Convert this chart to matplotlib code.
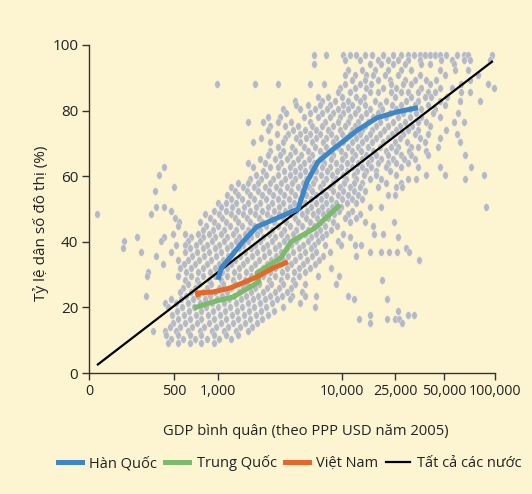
import numpy as np
import matplotlib
matplotlib.use("Agg")
import matplotlib.pyplot as plt
from matplotlib.lines import Line2D
from matplotlib.ticker import FixedLocator, FixedFormatter, NullLocator

plt.rcParams['font.family'] = ['Open Sans', 'DejaVu Sans']

# ---------------- data ----------------
x_ticks = [0, 500, 1000, 10000, 25000, 50000, 100000]
x_tick_labels = ["0", "500", "1,000", "10,000", "25,000", "50,000", "100,000"]
y_ticks = [0, 20, 40, 60, 80, 100]

korea_gdp = [1000, 1060, 1210, 1560, 2060, 2780, 4420, 5220, 6410, 8790, 13250, 18300, 25700, 34600]
korea_urban = [28.4, 32.0, 34.5, 39.7, 44.6, 46.7, 50.0, 58.3, 64.4, 68.7, 74.2, 77.8, 79.6, 80.9]

china_gdp = [685, 925, 1330, 2140, 2060, 3220, 3880, 6060, 9640]
china_urban = [19.8, 21.7, 23.2, 27.8, 30.5, 35.1, 40.0, 44.2, 51.3]

vietnam_gdp = [735, 720, 925, 1250, 1590, 2060, 2780, 3670]
vietnam_urban = [23.2, 24.4, 24.7, 25.9, 27.5, 29.3, 32.0, 33.9]

all_gdp = [47, 97000]
all_urban = [2.4, 95.1]

# scatter of all countries: urban share levels and GDP values at each level
cloud_urban = [97.0, 95.5, 94.2, 92.5, 91.0, 89.4, 88.2, 87.0, 85.8, 84.2,
               83.0, 81.8, 80.6, 79.3, 78.1, 76.6, 75.4, 74.2, 72.9, 71.7,
               70.5, 69.0, 67.7, 66.5, 65.3, 64.1, 62.9, 61.6, 60.4, 59.2,
               58.0, 56.8, 55.5, 54.3, 53.1, 51.9, 50.7, 49.4, 48.5, 47.3,
               46.1, 44.9, 43.6, 42.4, 41.5, 40.3, 39.1, 38.1, 36.9, 35.7,
               34.5, 33.3, 32.0, 30.8, 29.6, 28.4, 27.2, 26.0, 24.7, 23.5,
               22.6, 21.4, 20.1, 18.9, 17.7, 16.5, 15.3, 14.0, 12.8, 11.6,
               10.4, 9.2]
cloud_gdp = [
    [5900, 7400, 10200, 11500, 12700, 14900, 16800, 20300, 24200, 27200, 30000, 32700, 35600, 38200, 41000, 44000, 47200, 51400, 59600, 65600, 69300, 96000],
    [10500, 13700, 18600, 22100, 26000, 30000, 35600, 48000, 55700, 65600, 71200, 93400],
    [5900, 16200, 19600, 24200, 28800, 36100, 41000, 57300],
    [11100, 14200, 17700, 22100, 27200, 31400, 47200, 58100, 69300],
    [10500, 12500, 15200, 17100, 21000, 26000, 35600, 50700, 79400],
    [11900, 14900, 18600, 22900, 28800, 33200, 38700, 44600, 71200],
    [990, 1990, 3040, 5520, 7150, 10500, 13700, 16500, 23300, 28000, 31400, 41000, 63100, 90900],
    [9640, 12500, 15200, 20300, 25400, 36100, 47200, 55700, 98700],
    [9270, 11500, 16200, 18600, 23300, 27200, 30000, 34600, 40000, 44000, 63100, 71200],
    [6400, 7700, 10000, 12700, 14600, 25000, 31400, 38200, 41600, 52100],
    [4180, 6920, 8790, 11100, 13700, 17700, 21400, 29200, 34600, 47200, 62200, 81500],
    [4260, 5320, 6650, 8000, 10200, 11900, 14900, 19300, 23700, 27200, 33200, 40000, 50700],
    [3340, 4580, 6060, 7560, 9270, 11100, 13200, 16200, 19900, 25400, 30900, 36100, 44000],
    [3530, 5520, 6920, 8450, 10200, 12500, 15200, 18600, 22900, 28000, 33700, 42700, 60500],
    [2530, 3160, 4930, 6400, 8000, 9640, 11500, 14000, 17100, 21400, 26000, 30900, 36100, 47200],
    [1740, 2300, 3040, 3880, 5520, 7300, 9270, 11100, 13200, 15700, 19300, 24200, 28800, 34600, 38700, 57300, 65600],
    [2630, 3470, 4410, 5740, 6920, 8450, 10500, 12500, 14900, 18000, 22100, 26800, 31800, 41000],
    [2530, 4020, 5030, 6170, 7700, 9640, 11900, 14200, 16800, 20600, 25400, 30000, 34600, 51400],
    [2990, 3670, 4580, 5520, 6650, 8150, 10000, 11500, 13700, 16200, 19300, 23700, 28000, 33200, 40000, 59600],
    [2220, 3470, 4260, 5120, 6170, 7440, 8960, 10700, 12700, 15200, 18000, 22100, 26800, 35600, 47200],
    [1910, 2630, 3340, 4580, 5740, 7050, 8450, 10200, 11900, 14200, 16800, 20300, 25000, 29600, 38200, 62200],
    [3040, 3950, 4930, 6060, 7440, 9270, 11100, 13200, 15700, 19300, 23300, 26000, 31400, 34600, 45700],
    [2630, 3340, 4180, 5320, 6650, 8000, 9810, 11900, 14000, 17100, 21400, 25400, 30400, 38700],
    [2530, 3160, 3810, 4670, 5740, 7050, 8450, 10500, 12500, 15200, 18000, 22100, 27200, 31400, 40000, 66500],
    [2180, 2880, 3600, 4410, 5420, 6650, 8150, 10000, 11900, 14200, 16500, 19600, 24200, 28400, 33200],
    [1740, 2390, 3210, 4020, 4930, 5900, 7160, 8960, 10900, 13200, 15700, 18600, 22100, 25400, 30000],
    [441, 1910, 2630, 3040, 3810, 4580, 5630, 6920, 8000, 9810, 11900, 14200, 16500, 21400, 27200, 34600, 47200, 72200],
    [2300, 3400, 4180, 5030, 6170, 7560, 9100, 10900, 13000, 15200, 18000, 22900],
    [412, 2030, 2440, 3040, 3810, 4580, 5520, 6780, 8300, 10200, 12300, 14600, 18000, 25400, 38700, 50700, 86100],
    [1810, 2220, 2780, 3470, 4180, 5120, 6060, 7440, 8960, 10700, 12700, 16200, 19600, 30000, 33700, 66500],
    [1450, 1740, 2100, 2630, 3210, 3950, 4840, 5850, 7050, 8450, 10400, 12300, 14200, 21400, 27200],
    [500, 1270, 1590, 1950, 2390, 2940, 3600, 4410, 5420, 6650, 8000, 9640, 11500, 13700, 18600, 25400, 27500],
    [388, 1370, 1710, 2100, 2580, 3160, 3880, 4760, 5740, 6920, 8450, 10200, 12200, 14900],
    [1180, 1450, 1810, 2260, 2780, 3400, 4180, 5120, 6170, 7440, 9270, 11100, 13200, 22100, 25000],
    [1270, 1560, 1950, 2440, 3040, 3740, 4580, 5630, 6780, 8150, 10000, 11900, 14200],
    [1000, 1160, 1400, 1740, 2180, 2720, 3340, 4100, 5030, 6170, 7440, 8960, 10900, 12700],
    [394, 441, 1060, 1300, 1620, 2030, 2530, 3100, 3810, 4580, 5630, 6920, 8300, 9810, 16200, 19600, 88500],
    [482, 940, 1160, 1450, 1810, 2260, 2830, 3470, 4260, 5220, 6400, 7700, 9450, 11900],
    [47, 365, 815, 1020, 1270, 1590, 1990, 2480, 3100, 3880, 4760, 5850, 7050, 8620, 11100, 13700],
    [508, 881, 1080, 1370, 1710, 2140, 2680, 3340, 4180, 5120, 6290, 7700, 10500, 12700],
    [540, 753, 940, 1160, 1450, 1810, 2260, 2830, 3530, 4410, 5520, 6780, 8450, 11500, 14900, 24600],
    [532, 830, 1000, 1250, 1560, 1950, 2440, 3040, 3810, 4760, 5950, 7300, 9100, 17100],
    [784, 920, 1120, 1400, 1740, 2180, 2720, 3400, 4260, 5320, 6650, 8150],
    [494, 594, 729, 866, 1060, 1320, 1650, 2060, 2580, 3210, 4020, 5030, 6170, 7440, 10200, 17400, 20300],
    [282, 441, 653, 784, 953, 1180, 1480, 1850, 2300, 2880, 3600, 4500, 5630, 6920, 11500, 26000],
    [206, 424, 623, 753, 908, 1120, 1400, 1740, 2180, 2720, 3400, 4260, 5320, 6400, 9270],
    [516, 594, 707, 841, 1020, 1270, 1590, 1990, 2480, 3100, 3880, 4840, 5950, 7300, 9810, 12500, 14000],
    [200, 643, 784, 953, 1180, 1480, 1850, 2300, 2880, 3600, 4500, 5630, 29200],
    [306, 482, 594, 720, 866, 1060, 1320, 1650, 2060, 2580, 3210, 4020, 5030, 6170, 8000, 16200, 19600, 22500, 25700, 30400],
    [394, 663, 800, 969, 1200, 1500, 1880, 2350, 2940, 3670, 4580, 5740, 7050, 12700],
    [532, 623, 741, 896, 1100, 1370, 1710, 2140, 2680, 3340, 4180, 5220, 6520, 35100],
    [435, 584, 696, 841, 1020, 1270, 1590, 1990, 2480, 3100, 3880, 4840, 6060],
    [550, 653, 784, 953, 1180, 1480, 1850, 2300, 2880, 3600, 4500, 5520, 8150],
    [347, 604, 729, 881, 1080, 1350, 1680, 2100, 2630, 3280, 4100, 5030],
    [341, 532, 653, 784, 953, 1180, 1480, 1850, 2300, 2880, 3600, 4500, 6400, 9450],
    [594, 720, 866, 1060, 1320, 1650, 2060, 2580, 3210, 4020, 19900],
    [623, 741, 896, 1100, 1370, 1710, 2140, 2680, 3340, 4180, 5030, 8960],
    [576, 696, 841, 1020, 1270, 1590, 1990, 2480, 3100, 3880],
    [550, 653, 784, 953, 1180, 1480, 1850, 2300, 2880, 3600, 4760],
    [335, 604, 729, 881, 1080, 1350, 1680, 2100, 2630, 3280, 3950, 5030, 6170, 11100],
    [482, 560, 670, 815, 990, 1230, 1530, 1910, 2390, 2990, 3810, 12200, 21700],
    [447, 516, 623, 753, 908, 1120, 1400, 1740, 2180, 2720, 4580],
    [465, 568, 683, 830, 1000, 1250, 1560, 1950, 2440, 3340, 6060],
    [524, 633, 767, 924, 1140, 1420, 1780, 2220, 2830, 26000],
    [488, 584, 707, 855, 1040, 1300, 1620, 2030, 2530, 16200, 30000, 32500],
    [532, 643, 767, 940, 1160, 1450, 1810, 2260, 13400, 21700, 25000, 26400],
    [494, 594, 720, 866, 1060, 1320, 1650, 2060, 16200, 27600],
    [476, 550, 663, 800, 969, 1200, 1500, 1880],
    [376, 447, 516, 623, 753, 908, 1120, 1400, 1740],
    [453, 532, 643, 767, 940, 1160, 1450],
    [482, 576, 696, 841, 1020, 1270],
    [465, 532, 643, 767, 940],
]

labels = ["Hàn Quốc", "Trung Quốc", "Việt Nam", "Tất cả các nước"]

# ---------------- styles ----------------
BG = "#fdf4d2"
DOT = "#b4b9c3"
C_KOREA = "#3d87c8"
C_CHINA = "#7cba6c"
C_VN = "#e5672c"
TXT = "#222222"

# custom x scale (the original axis is piecewise: linear below 500, log-like above)
LOGK = [np.log10(500), 3.0, 4.0, np.log10(25000), np.log10(50000), 5.0, 6.0]
POSK = [174.0, 218.0, 342.0, 395.0, 444.0, 495.0, 664.0]


def fwd(x):
    x = np.asarray(x, dtype=float)
    xs = np.maximum(x, 500.0)
    hi = np.interp(np.log10(xs), LOGK, POSK)
    lo = 89.0 + x / 500.0 * 85.0
    return np.where(x >= 500, hi, lo)


def inv(p):
    p = np.asarray(p, dtype=float)
    hi = 10 ** np.interp(p, POSK, LOGK)
    lo = (p - 89.0) / 85.0 * 500.0
    return np.where(p >= 174, hi, lo)


W, H = 532, 494
fig = plt.figure(figsize=(W / 100, H / 100), dpi=100)
fig.patch.set_facecolor(BG)
ax = fig.add_axes([89 / W, 121 / H, 406 / W, 328 / H])
ax.set_facecolor(BG)
ax.set_xscale('function', functions=(fwd, inv))

# cloud
cx, cy = [], []
for u, row in zip(cloud_urban, cloud_gdp):
    cx.extend(row)
    cy.extend([u] * len(row))
t = np.linspace(0, 2 * np.pi, 25)
ell = np.column_stack([0.36 * np.cos(t), 0.5 * np.sin(t)])
ax.scatter(cx, cy, s=30, marker=ell, facecolor=DOT, edgecolor="#eeeeee",
           linewidths=0.3, zorder=2, clip_on=False)

ax.plot(all_gdp, all_urban, color="black", lw=1.6, zorder=3, solid_capstyle='butt')
ax.plot(china_gdp, china_urban, color=C_CHINA, lw=3.6, zorder=4, solid_capstyle='butt')
ax.plot(vietnam_gdp, vietnam_urban, color=C_VN, lw=3.6, zorder=5, solid_capstyle='butt')
ax.plot(korea_gdp, korea_urban, color=C_KOREA, lw=3.6, zorder=6, solid_capstyle='butt')

ax.set_xlim(0, 100000)
ax.set_ylim(0, 100)
ax.xaxis.set_major_locator(FixedLocator(x_ticks))
ax.xaxis.set_major_formatter(FixedFormatter(x_tick_labels))
ax.xaxis.set_minor_locator(NullLocator())
ax.set_yticks(y_ticks)

for s in ['top', 'right']:
    ax.spines[s].set_visible(False)
for s in ['left', 'bottom']:
    ax.spines[s].set_color("#333333")
    ax.spines[s].set_linewidth(1.0)
ax.tick_params(axis='both', direction='out', length=5.2, width=1.0,
               color="#333333", labelcolor=TXT)
ax.tick_params(axis='x', labelsize=10.3, pad=3)
ax.tick_params(axis='y', labelsize=11, pad=2.5)

ax.set_xlabel("GDP bình quân (theo PPP USD năm 2005)", fontsize=10.6, color=TXT)
ax.xaxis.set_label_coords((306 - 89) / 406, (373 - 424) / 328)
ax.set_ylabel("Tỷ lệ dân số đô thị (%)", fontsize=11, color=TXT)
ax.yaxis.set_label_coords((49 - 89) / 406, (373 - 223) / 328)

handles = [Line2D([], [], color=C_KOREA, lw=3.6),
           Line2D([], [], color=C_CHINA, lw=3.6),
           Line2D([], [], color=C_VN, lw=3.6),
           Line2D([], [], color="black", lw=1.6)]
fs = 10.5
fig.legend(handles, labels, loc='center left', bbox_to_anchor=(58 / W, 1 - 463 / H),
           ncol=4, frameon=False, fontsize=fs, handlelength=1.65, handletextpad=0.5,
           columnspacing=0.55, borderaxespad=0.0, borderpad=0.0, labelcolor=TXT)

fig.savefig("out.png", dpi=100, facecolor=BG)
